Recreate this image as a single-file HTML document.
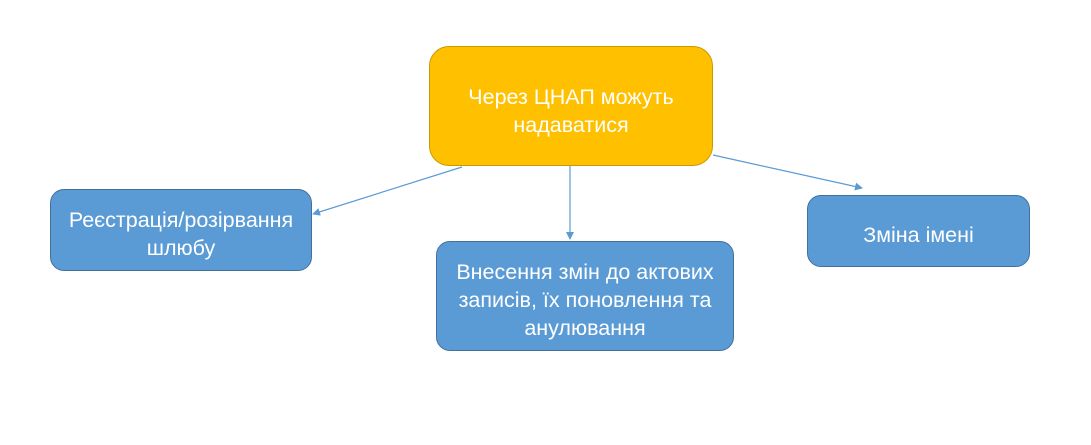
<!DOCTYPE html>
<html><head><meta charset="utf-8"><style>
body{margin:0;width:1091px;height:445px;background:#fff;position:relative;overflow:hidden;font-family:"Liberation Sans","DejaVu Sans",sans-serif;}
.b{position:absolute;box-sizing:border-box;border-radius:14px;display:flex;align-items:center;justify-content:center;text-align:center;color:#fff;font-size:21.5px;line-height:28px;padding-top:7px;white-space:nowrap;}
.o{background:#FFC000;border:1px solid #C99A00;}
.u{background:#5B9BD5;border:1px solid #41719C;}
svg{position:absolute;left:0;top:0;}
</style></head><body>
<div class="b o" style="left:429px;top:46px;width:284px;height:120px;border-radius:20px;padding-top:9px;">Через ЦНАП можуть<br>надаватися</div>
<div class="b u" style="left:50px;top:189px;width:262px;height:82px;">Реєстрація/розірвання<br>шлюбу</div>
<div class="b u" style="left:436px;top:241px;width:298px;height:110px;">Внесення змін до актових<br>записів, їх поновлення та<br>анулювання</div>
<div class="b u" style="left:807px;top:195px;width:223px;height:72px;">Зміна імені</div>
<svg width="1091" height="445">
<defs><marker id="a" markerWidth="8" markerHeight="8" refX="7" refY="4" orient="auto" markerUnits="userSpaceOnUse"><path d="M0,0 L8,4 L0,8 z" fill="#5B9BD5"/></marker></defs>
<g stroke="#5B9BD5" stroke-width="1.2" fill="none" marker-end="url(#a)">
<line x1="462" y1="167" x2="313" y2="214"/>
<line x1="570" y1="166" x2="570" y2="239"/>
<line x1="713" y1="155" x2="862" y2="188"/>
</g></svg>
</body></html>
